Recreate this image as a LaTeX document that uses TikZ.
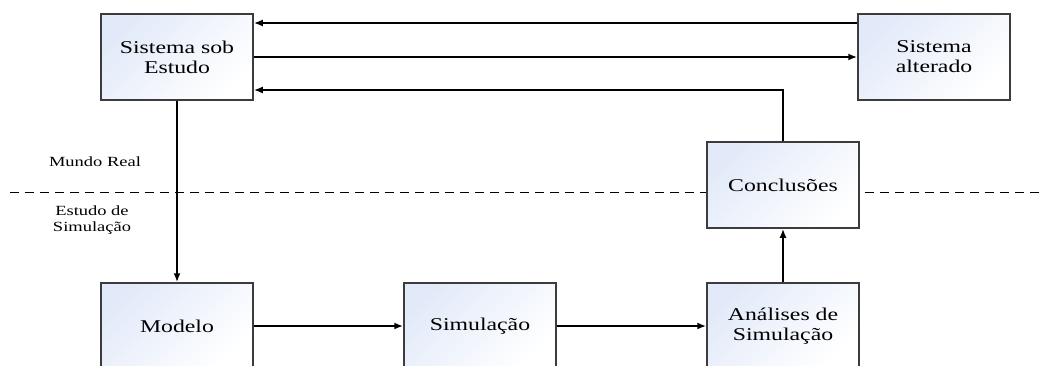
\documentclass[tikz,border=0pt]{standalone}
\usepackage{fontspec}
\setmainfont[FakeStretch=1.32]{Liberation Serif}
\usetikzlibrary{arrows.meta,calc}
\definecolor{boxtint}{RGB}{226,234,249}
\definecolor{boxedge}{RGB}{60,60,60}
\begin{document}
\begin{tikzpicture}[x=1pt,y=-1pt,
  stage/.style={draw=boxedge, line width=1.5pt, top color=boxtint, bottom color=white,
    shading angle=45, minimum width=152pt, minimum height=86pt, inner sep=0pt,
    align=center, font=\fontsize{18}{20}\selectfont},
  tag/.style={align=center, font=\fontsize{14}{16}\selectfont},
  flow/.style={line width=1.8pt, -{Latex[length=9pt,width=7pt]}},
  divider/.style={line width=0.9pt, dash pattern=on 9pt off 6pt}]
\useasboundingbox (0,0) rectangle (1043,365);
\clip (0,0) rectangle (1043,365);

% real-world / simulation divider
\coordinate (divL) at (10,192);
\coordinate (divR) at (1043,192);
\draw[divider] (divL) -- (divR);

% stages
\node[stage] (sis) at (177,57) {Sistema sob\\Estudo};
\node[stage] (alt) at (934,57) {Sistema\\alterado};
\node[stage] (conc) at (783,185) {Conclusões};
\node[stage] (mod) at (177,326) {Modelo};
\node[stage] (sim) at (480,326) {Simulação};
\node[stage] (ana) at (783,326) {Análises de\\Simulação};

% side labels
\node[tag] (real) at (95,162) {Mundo Real};
\node[tag] (estudo) at (92,220) {Estudo de\\Simulação};

% connectors
\draw[flow] ([yshift=34pt]alt.west) -- ([yshift=34pt]sis.east);
\draw[flow] (sis.east) -- (alt.west);
\draw[flow] (conc.north) |- ([yshift=-33pt]sis.east);
\draw[flow] (sis.south) -- (mod.north);
\draw[flow] (mod.east) -- (sim.west);
\draw[flow] (sim.east) -- (ana.west);
\draw[flow] (ana.north) -- (conc.south);
\end{tikzpicture}
\end{document}
